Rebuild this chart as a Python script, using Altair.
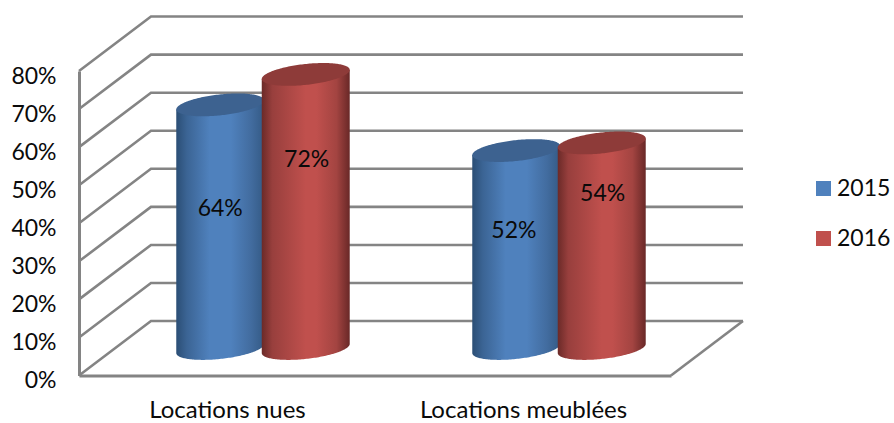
import altair as alt
import numpy as np
import pandas as pd

# Chart values
categories = ["Locations nues", "Locations meublées"]
years = ["2015", "2016"]
values_2015 = [64, 52]
values_2016 = [72, 54]
y_ticks = [0, 10, 20, 30, 40, 50, 60, 70, 80]

# Placement of each value label: height in percent, horizontal nudge in x units
label_heights = {"2015": [43.7, 38.0], "2016": [56.5, 47.6]}
label_nudges = {"2015": [0.0, -0.008], "2016": [0.003, 0.003]}

# Oblique projection constants, in scale units
DEPTH_X = 0.2432      # horizontal shift of the back wall (x units, one unit per category)
DEPTH_Y = 14.3        # vertical shift of the back wall (percent)
BASE_Y = 7.1          # base of the cylinders, halfway through the depth
HALF_W = 0.1486       # cylinder radius on the x scale
SERIES_DX = {"2015": -0.1444, "2016": 0.1444}
CAP_B = 2.75          # half height of the elliptical caps (percent)
CAP_K = 1.2           # tilt of the caps (percent)
CENTER_SHIFT = 0.1216 # cylinders stand halfway back on the floor

GREY = "#848484"
TEXT = "#0a0a0a"
FONT = "Lato"
WIDTH, HEIGHT = 592, 304.5

x_scale = alt.Scale(domain=[0, 2], nice=False, zero=False)
y_scale = alt.Scale(domain=[0, 80], nice=False, zero=False)


def gradient(stops):
    return alt.Gradient(
        gradient="linear", x1=0, x2=1, y1=0, y2=0,
        stops=[alt.GradientStop(offset=o, color=c) for o, c in stops],
    )


BODY = {
    "2015": gradient([(0, "#2b4e75"), (0.12, "#3b6494"), (0.38, "#4f81bd"),
                      (0.62, "#4f81bd"), (0.85, "#426c9f"), (1, "#345a85")]),
    "2016": gradient([(0, "#6b2a28"), (0.12, "#983f3d"), (0.5, "#c0504d"),
                      (0.62, "#c0504d"), (0.85, "#a34441"), (1, "#692827")]),
}
CAP = {"2015": "#3d6290", "2016": "#8e3b39"}
SOLID = {"2015": "#4f81bd", "2016": "#c0504d"}
VALUES = {"2015": values_2015, "2016": values_2016}


def cylinder_rows(year):
    """Outline of each cylinder's body and cap, sampled across its width."""
    body, cap = [], []
    t = np.linspace(0, np.pi, 90)
    u = -np.cos(t)
    for i, value in enumerate(VALUES[year]):
        cx = i + 0.5 + CENTER_SHIFT + SERIES_DX[year]
        top = BASE_Y + value
        for ui, si in zip(u, np.sin(t)):
            x = float(cx + HALF_W * ui)
            tilt = float(CAP_K * ui)
            body.append({"cat": categories[i], "x": x,
                         "y": top + tilt, "y_low": float(BASE_Y + tilt - CAP_B * si)})
            cap.append({"cat": categories[i], "x": x,
                        "y": float(top + tilt + CAP_B * si),
                        "y_low": float(top + tilt - CAP_B * si)})
    return pd.DataFrame(body), pd.DataFrame(cap)


X = alt.X("x:Q", scale=x_scale, title=None,
          axis=alt.Axis(values=[0.5, 1.5],
                        labelExpr="datum.value < 1 ? 'Locations nues' : 'Locations meublées'",
                        labelFont=FONT, labelFontSize=24, labelColor=TEXT, labelLimit=400,
                        labelPadding=23, tickSize=0, grid=False,
                        domainColor=GREY, domainWidth=3))
Y = alt.Y("y:Q", scale=y_scale, title=None,
          axis=alt.Axis(values=y_ticks, labelExpr="datum.value + '%'",
                        labelFont=FONT, labelFontSize=23, labelColor=TEXT,
                        labelPadding=23, labelOffset=5, tickSize=0, grid=False,
                        domainColor=GREY, domainWidth=3))

# Walls and floor of the box
wall_rows = []
line_id = 0
for tick in y_ticks:
    wall_rows += [
        {"id": line_id, "x": 0, "y": tick},
        {"id": line_id, "x": DEPTH_X, "y": tick + DEPTH_Y},
        {"id": line_id, "x": 2 + DEPTH_X, "y": tick + DEPTH_Y},
    ]
    line_id += 1
wall_rows += [
    {"id": line_id, "x": 2, "y": 0},
    {"id": line_id, "x": 2 + DEPTH_X, "y": DEPTH_Y},
]
walls = (
    alt.Chart(pd.DataFrame(wall_rows))
    .mark_line(color=GREY, strokeWidth=2.6, clip=False)
    .encode(x=X, y=Y, detail="id:N", order="x:Q")
)

layers = [walls]

# Hidden marks that carry the series legend
legend_df = pd.DataFrame(
    {"x": [0.5, 0.5], "y": [0, 0], "year": years}
)
layers.append(
    alt.Chart(legend_df)
    .mark_square(opacity=0, size=1)
    .encode(
        x=X, y=Y,
        color=alt.Color(
            "year:N",
            scale=alt.Scale(domain=years, range=[SOLID[y] for y in years]),
            legend=alt.Legend(
                title=None, orient="none", legendX=733, legendY=106,
                symbolType="square", symbolSize=225, symbolOpacity=1,
                symbolStrokeWidth=0, labelFont=FONT, labelFontSize=23,
                labelColor=TEXT, labelOffset=2, rowPadding=26,
            ),
        ),
    )
)

# Cylinders, back series first so the second overlaps it
for year in years:
    body_df, cap_df = cylinder_rows(year)
    layers.append(
        alt.Chart(body_df).mark_area(color=BODY[year], clip=False)
        .encode(x=X, y=Y, y2=alt.Y2("y_low"), detail="cat:N")
    )
    layers.append(
        alt.Chart(cap_df).mark_area(color=CAP[year], clip=False)
        .encode(x=X, y=Y, y2=alt.Y2("y_low"), detail="cat:N")
    )

# Value labels
label_rows = []
for year in years:
    for i, value in enumerate(VALUES[year]):
        label_rows.append({
            "x": i + 0.5 + CENTER_SHIFT + SERIES_DX[year] + label_nudges[year][i],
            "y": label_heights[year][i],
            "label": f"{value}%",
        })
layers.append(
    alt.Chart(pd.DataFrame(label_rows))
    .mark_text(font=FONT, fontSize=23, color=TEXT, clip=False)
    .encode(x=X, y=Y, text="label:N")
)

chart = (
    alt.layer(*layers)
    .properties(
        width=WIDTH, height=HEIGHT,
        padding={"left": 79, "top": 71, "right": 223, "bottom": 47.5},
        autosize=alt.AutoSizeParams(type="none"),
        background="white",
    )
    .configure_view(stroke=None)
)

chart.save("out.html", embed_options={"renderer": "svg", "actions": False})
